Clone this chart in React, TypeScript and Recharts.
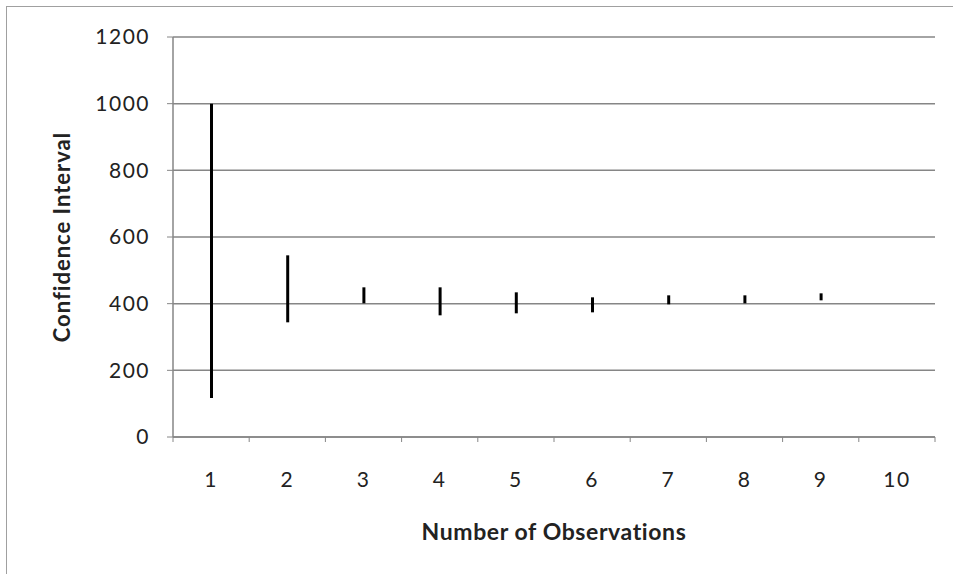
import { ComposedChart, Bar, XAxis, YAxis, CartesianGrid } from 'recharts'

// observation counts along the x axis
const observations = ['1', '2', '3', '4', '5', '6', '7', '8', '9', '10']
// interval bounds (no interval drawn for 10)
const lowValues = [117, 344, 401, 365, 371, 374, 398, 401, 410, null]
const highValues = [1000, 545, 449, 449, 434, 419, 425, 425, 431, null]
const yTicks = [0, 200, 400, 600, 800, 1000, 1200]

const data = observations.map((n, i) => ({
  n,
  range: lowValues[i] == null ? null : [lowValues[i], highValues[i]],
}))

const GRID = '#868686'
const FONT = 'Lato, "Open Sans", sans-serif'
const X_GAP = 50

function XTick(props: any) {
  const { x, y, payload, index, visibleTicksCount, width } = props
  const half = payload?.offset ?? width / visibleTicksCount / 2
  const axisY = y - X_GAP
  return (
    <g>
      <line x1={x - half} x2={x - half} y1={axisY} y2={axisY + 5} stroke={GRID} />
      {index === visibleTicksCount - 1 && (
        <line x1={x + half} x2={x + half} y1={axisY} y2={axisY + 5} stroke={GRID} />
      )}
      <text x={x} y={y} textAnchor="middle" fontSize={21} letterSpacing={1.5} fill="#222" fontFamily={FONT}>
        {payload.value}
      </text>
    </g>
  )
}

export default function App() {
  return (
    <div style={{ position: 'absolute', left: 0, top: 0, width: 954, height: 575, background: '#fff' }}>
      <div
        style={{
          position: 'absolute',
          left: 6,
          top: 6,
          width: 946,
          height: 567,
          borderLeft: '1.5px solid #a0a0a0',
          borderTop: '1.5px solid #a0a0a0',
        }}
      />
      <ComposedChart
        width={954}
        height={575}
        data={data}
        margin={{ top: 37, right: 19, bottom: 0, left: 0 }}
        style={{ position: 'absolute', left: 0, top: 0 }}
      >
        <CartesianGrid vertical={false} stroke={GRID} strokeWidth={1.5} />
        <XAxis
          dataKey="n"
          height={138}
          axisLine={{ stroke: GRID, strokeWidth: 1.5 }}
          tickLine={false}
          tickSize={0}
          tickMargin={X_GAP}
          interval={0}
          tick={<XTick />}
          label={({ viewBox }: any) => (
            <text
              x={viewBox.x + viewBox.width / 2}
              y={viewBox.y + 103}
              textAnchor="middle"
              fontSize={23}
              letterSpacing={0.6}
              fontWeight="bold"
              fill="#222"
              fontFamily={FONT}
            >
              Number of Observations
            </text>
          )}
        />
        <YAxis
          width={173}
          domain={[0, 1200]}
          ticks={yTicks}
          interval={0}
          axisLine={{ stroke: GRID, strokeWidth: 1.5 }}
          tickLine={{ stroke: GRID }}
          tickSize={6}
          tickMargin={17}
          tick={{ fontSize: 21, fill: '#222', fontFamily: FONT, letterSpacing: 1.5 }}
          label={({ viewBox }: any) => {
            const cy = viewBox.y + viewBox.height / 2
            return (
              <text
                x={70}
                y={cy}
                transform={`rotate(-90, 70, ${cy})`}
                textAnchor="middle"
                fontSize={22}
                letterSpacing={1}
                fontWeight="bold"
                fill="#222"
                fontFamily={FONT}
              >
                Confidence Interval
              </text>
            )
          }}
        />
        <Bar dataKey="range" fill="#000" barSize={3} isAnimationActive={false} />
      </ComposedChart>
    </div>
  )
}
